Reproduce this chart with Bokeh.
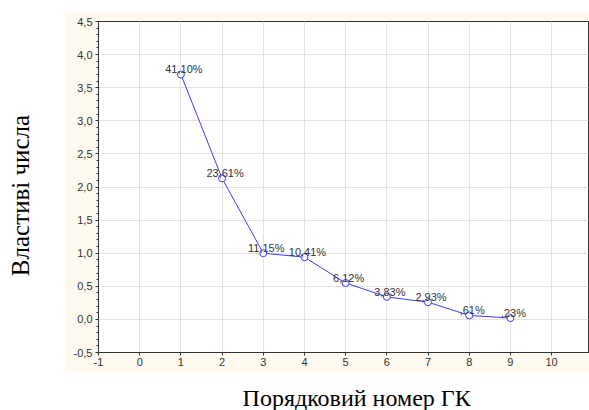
import math
from bokeh.plotting import figure
from bokeh.layouts import row, column
from bokeh.models import FixedTicker, CustomJSTickFormatter, Range1d, Spacer
from bokeh.core.properties import value
from bokeh.embed import file_html
from bokeh.resources import INLINE

# ---- data ----
components = [1, 2, 3, 4, 5, 6, 7, 8, 9]
eigenvalues = [3.70, 2.13, 1.00, 0.94, 0.55, 0.34, 0.26, 0.06, 0.02]
pct_labels = ["41,10%", "23,61%", "11,15%", "10,41%", "6,12%", "3,83%", "2,93%", ",61%", ",23%"]
x_ticks = [-1, 0, 1, 2, 3, 4, 5, 6, 7, 8, 9, 10, 11]
y_ticks = [-0.5, 0.0, 0.5, 1.0, 1.5, 2.0, 2.5, 3.0, 3.5, 4.0, 4.5]
y_title = "Властиві числа"
x_title = "Порядковий номер ГК"

CREAM = "#FDF9EE"
BLUE = "#3a3aff"
DARK = "#333333"
SANS = "Liberation Sans"
SERIF = "Liberation Serif"

y_minor = [round(-0.5 + 0.1 * i, 2) for i in range(51)]

p = figure(width=525, height=362, x_range=Range1d(-1, 10.92), y_range=Range1d(-0.5, 4.5),
           output_backend="svg", toolbar_location=None,
           min_border_left=34, min_border_right=0, min_border_top=10, min_border_bottom=21,
           border_fill_color=CREAM, background_fill_color="white",
           outline_line_color=DARK, outline_line_width=1)

p.xaxis.ticker = FixedTicker(ticks=x_ticks)
p.xaxis.formatter = CustomJSTickFormatter(code="return String(Math.round(tick));")
p.yaxis.ticker = FixedTicker(ticks=y_ticks, minor_ticks=y_minor)
p.yaxis.formatter = CustomJSTickFormatter(code="return tick.toFixed(1).replace('.', ',');")
for ax in (p.xaxis[0], p.yaxis[0]):
    ax.axis_line_color = DARK
    ax.major_tick_line_color = DARK
    ax.minor_tick_line_color = DARK
    ax.major_tick_out = 3
    ax.major_tick_in = 0
    ax.major_label_text_font = SANS
    ax.major_label_text_font_size = "11px"
    ax.major_label_text_color = DARK
p.xaxis.minor_tick_line_color = None
p.yaxis.minor_tick_out = 2
p.yaxis.minor_tick_in = 0
p.yaxis.major_label_standoff = 3
p.xaxis.major_label_standoff = 2

p.grid.grid_line_color = "#c4c4c4"
p.grid.grid_line_dash = "1 1"
p.grid.grid_line_width = 1

p.line(components, eigenvalues, line_color=BLUE, line_width=1)
p.scatter(components, eigenvalues, marker="circle", size=7, line_color=BLUE, fill_color="white", line_width=1)
p.text(components, eigenvalues, text=pct_labels, text_font=value(SANS), text_font_size="11px",
       text_align="center", text_baseline="alphabetic", x_offset=3, y_offset=-5, text_color=DARK)

ylab = figure(width=64, height=410, x_range=Range1d(0, 64), y_range=Range1d(0, 410),
              x_axis_type=None, y_axis_type=None, output_backend="svg", toolbar_location=None,
              min_border=0, outline_line_color=None, border_fill_color="white", background_fill_color="white")
ylab.grid.visible = False
ylab.text(x=[20], y=[410 - 195], text=[y_title], angle=math.pi / 2, text_align="center",
          text_baseline="alphabetic", text_font=value(SERIF), text_font_size="25px", text_color="black")

xlab = figure(width=525, height=37, x_range=Range1d(64, 589), y_range=Range1d(0, 37),
              x_axis_type=None, y_axis_type=None, output_backend="svg", toolbar_location=None,
              min_border=0, outline_line_color=None, border_fill_color="white", background_fill_color="white")
xlab.grid.visible = False
xlab.text(x=[340], y=[13], text=[x_title], text_align="center", text_baseline="middle",
          text_font=value(SERIF), text_font_size="24px", text_color="black")

layout = row(ylab, column(Spacer(width=525, height=11), p, xlab))

open("out.html", "w").write(file_html(layout, INLINE))
